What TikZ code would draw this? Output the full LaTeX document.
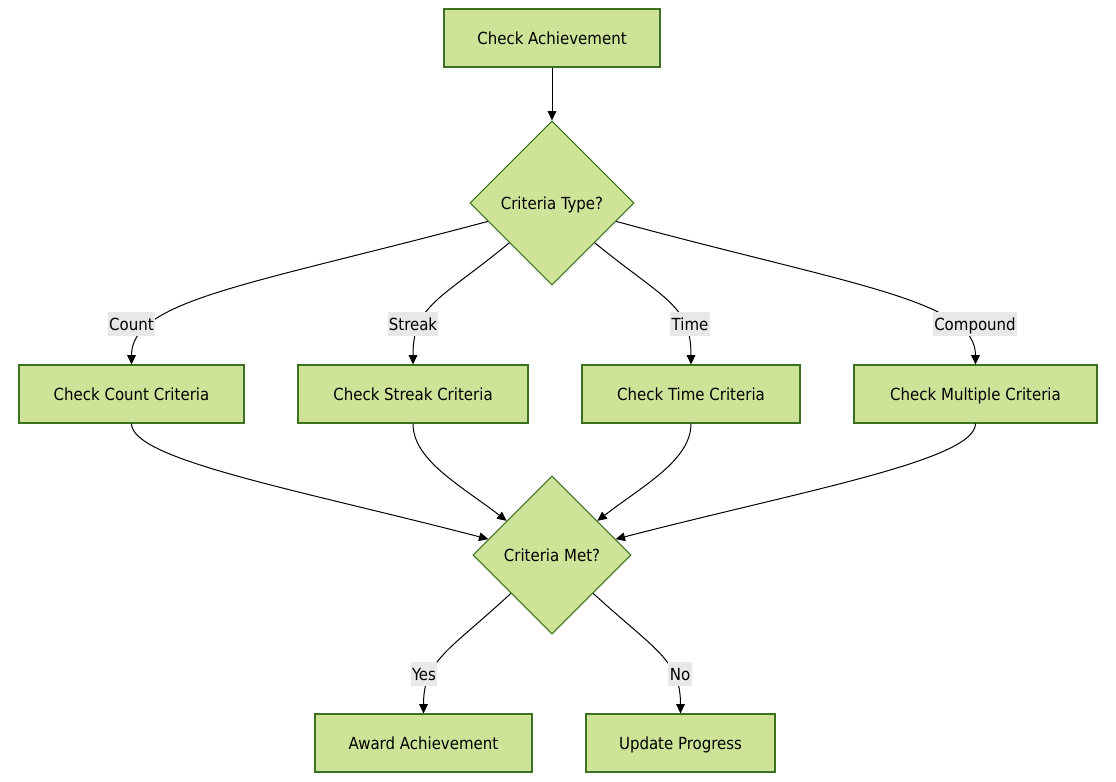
\documentclass[tikz,border=0pt]{standalone}
\usepackage{fontspec}
\setmainfont{DejaVu Sans Condensed}
\usetikzlibrary{shapes.geometric,arrows.meta}
\definecolor{boxfill}{HTML}{CDE498}
\definecolor{boxdraw}{HTML}{3B7220}
\definecolor{lblfill}{HTML}{E8E8E8}
\tikzset{
  every node/.style={font=\fontsize{12.5pt}{14pt}\selectfont, text height=10.6pt, text depth=1.3pt},
  procbox/.style={draw=boxdraw, fill=boxfill, line width=0.8pt, rectangle, minimum height=43.5pt, inner sep=0pt},
  decision/.style={draw=boxdraw, fill=boxfill, line width=0.8pt, diamond, aspect=1, inner sep=0pt},
  lbl/.style={fill=lblfill, inner xsep=1pt, inner ysep=2.8pt},
  conn/.style={draw=black, line width=0.75pt, -{Triangle[length=7pt,width=6.5pt]}},
}
\begin{document}
\begin{tikzpicture}[x=0.75pt,y=-0.75pt]
\useasboundingbox (0,0) rectangle (1116,781);
% nodes
\node[procbox, minimum width=162pt] (start) at (552,38) {Check Achievement};
\node[decision, minimum size=123pt] (type) at (552,203) {Criteria Type?};
\node[procbox, minimum width=168.75pt] (count) at (131.5,394) {Check Count Criteria};
\node[procbox, minimum width=172.5pt] (streak) at (413,394) {Check Streak Criteria};
\node[procbox, minimum width=163.5pt] (time) at (691,394) {Check Time Criteria};
\node[procbox, minimum width=182.25pt] (multi) at (975.5,394) {Check Multiple Criteria};
\node[decision, minimum size=118.5pt] (met) at (552,555) {Criteria Met?};
\node[procbox, minimum width=162.75pt] (award) at (423.5,743) {Award Achievement};
\node[procbox, minimum width=141.75pt] (update) at (680.5,743) {Update Progress};
% edges
\draw[conn] (start.south) -- (type.north);
\draw[conn] (type.196) .. controls (250,285) and (131.5,300) .. (count.north);
\draw[conn] (type.223) .. controls (440,300) and (413,305) .. (streak.north);
\draw[conn] (type.317) .. controls (665,300) and (691,305) .. (time.north);
\draw[conn] (type.344) .. controls (850,285) and (975.5,300) .. (multi.north);
\draw[conn] (count.south) .. controls (131.5,460) and (300,490) .. (met.166);
\draw[conn] (streak.south) .. controls (413,460) and (460,485) .. (met.143);
\draw[conn] (time.south) .. controls (691,460) and (644,485) .. (met.37);
\draw[conn] (multi.south) .. controls (975.5,460) and (806,490) .. (met.14);
\draw[conn] (met.223) .. controls (450,650) and (423.5,660) .. (award.north);
\draw[conn] (met.317) .. controls (655,650) and (680.5,660) .. (update.north);
% labels
\node[lbl] (lcount) at (131.5,324) {Count};
\node[lbl] (lstreak) at (413,324) {Streak};
\node[lbl] (ltime) at (690,324) {Time};
\node[lbl] (lcomp) at (975,324) {Compound};
\node[lbl] (lyes) at (424,674) {Yes};
\node[lbl] (lno) at (680,674) {No};
\end{tikzpicture}
\end{document}
